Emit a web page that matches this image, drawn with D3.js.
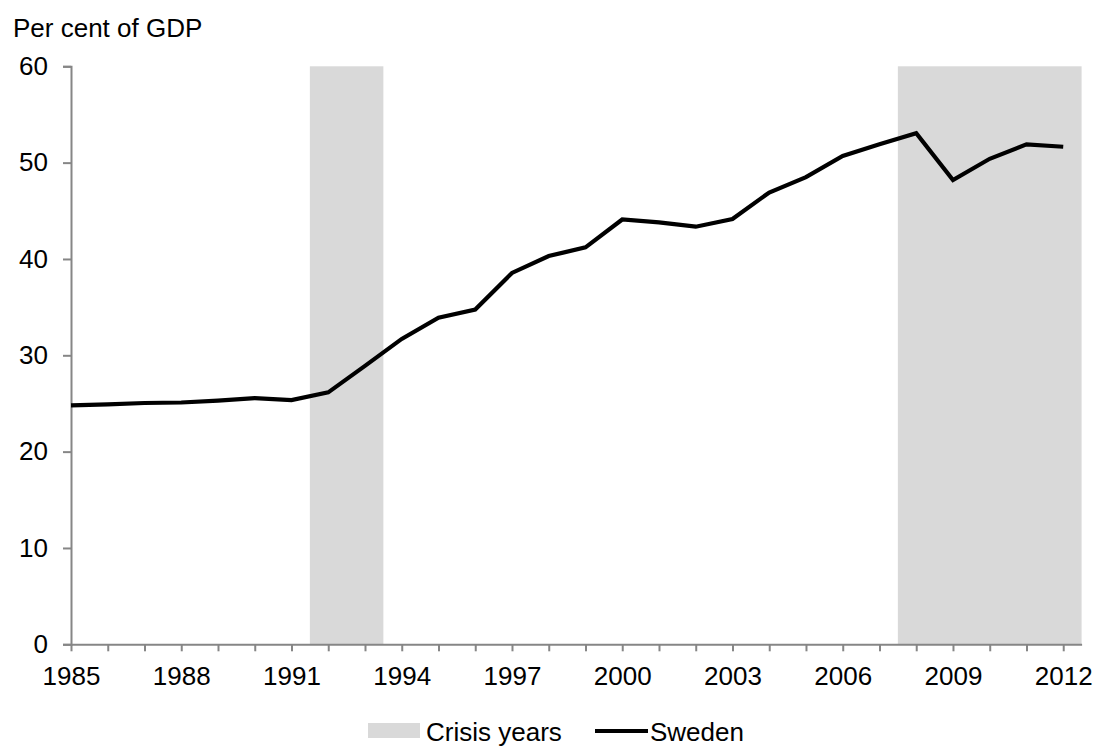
<!DOCTYPE html>
<html>
<head>
<meta charset="utf-8">
<script src="https://cdn.jsdelivr.net/npm/d3@7"></script>
<style>
  html, body { margin: 0; padding: 0; background: #fff; }
  text { font-family: "Liberation Sans", Arial, sans-serif; fill: #000; }
</style>
</head>
<body>
<svg id="chart" width="1098" height="747"></svg>
<script>
const years = [1985,1986,1987,1988,1989,1990,1991,1992,1993,1994,1995,1996,1997,1998,1999,2000,2001,2002,2003,2004,2005,2006,2007,2008,2009,2010,2011,2012];
const sweden = [24.8,24.9,25.05,25.1,25.3,25.55,25.35,26.15,28.9,31.7,33.9,34.75,38.55,40.3,41.2,44.1,43.8,43.35,44.15,46.9,48.5,50.7,51.9,53.05,48.2,50.4,51.9,51.65];
const crisisPeriods = [[1991.5, 1993.5], [2007.5, 2012.5]];
const yTicks = [0,10,20,30,40,50,60];
const xLabelYears = [1985,1988,1991,1994,1997,2000,2003,2006,2009,2012];
const yTitle = "Per cent of GDP";
const legendLabels = ["Crisis years", "Sweden"];

const svg = d3.select("#chart");
const mLeft = 71, mRight = 1081.6, mTop = 66.3, mBottom = 644.3;
const x = d3.scaleLinear().domain([1985, 2012.5]).range([mLeft, mRight]);
const y = d3.scaleLinear().domain([0, 60]).range([mBottom, mTop]);
const axisColor = "#868686";
const fs = 26;

// crisis shading
svg.selectAll("rect.crisis").data(crisisPeriods).enter().append("rect")
  .attr("class", "crisis")
  .attr("x", d => x(d[0])).attr("width", d => x(d[1]) - x(d[0]))
  .attr("y", y(60)).attr("height", y(0) - y(60))
  .attr("fill", "#d9d9d9");

// y axis
const yAxis = d3.axisLeft(y).tickValues(yTicks).tickSize(8).tickPadding(15);
const gy = svg.append("g").attr("transform", `translate(${mLeft},0)`).call(yAxis);
gy.select(".domain").attr("stroke", axisColor).attr("stroke-width", 2);
gy.selectAll(".tick line").attr("stroke", axisColor).attr("stroke-width", 2);
gy.selectAll(".tick text").attr("font-size", fs).attr("font-family", "Liberation Sans, Arial, sans-serif").attr("fill", "#000");

// x axis
const xAxis = d3.axisBottom(x).tickValues(years).tickSize(7).tickSizeOuter(0).tickPadding(15)
  .tickFormat(d => xLabelYears.includes(d) ? String(d) : "");
const gx = svg.append("g").attr("transform", `translate(0,${mBottom})`).call(xAxis);
gx.select(".domain").attr("stroke", axisColor).attr("stroke-width", 2);
gx.selectAll(".tick line").attr("stroke", axisColor).attr("stroke-width", 2);
gx.selectAll(".tick text").attr("font-size", fs).attr("font-family", "Liberation Sans, Arial, sans-serif").attr("fill", "#000");

// line
const line = d3.line().x((d, i) => x(years[i])).y(d => y(d));
svg.append("path").datum(sweden)
  .attr("d", line).attr("fill", "none").attr("stroke", "#000")
  .attr("stroke-width", 4.2).attr("stroke-linejoin", "miter");

// title
svg.append("text").attr("x", 13).attr("y", 37).attr("font-size", fs).text(yTitle);

// legend
const lg = svg.append("g");
lg.append("rect").attr("x", 368).attr("y", 723).attr("width", 52).attr("height", 15).attr("fill", "#d9d9d9");
lg.append("text").attr("x", 426).attr("y", 741).attr("font-size", fs).text(legendLabels[0]);
lg.append("line").attr("x1", 595).attr("x2", 648).attr("y1", 731).attr("y2", 731).attr("stroke", "#000").attr("stroke-width", 4);
lg.append("text").attr("x", 650).attr("y", 741).attr("font-size", fs).text(legendLabels[1]);
</script>
</body>
</html>
